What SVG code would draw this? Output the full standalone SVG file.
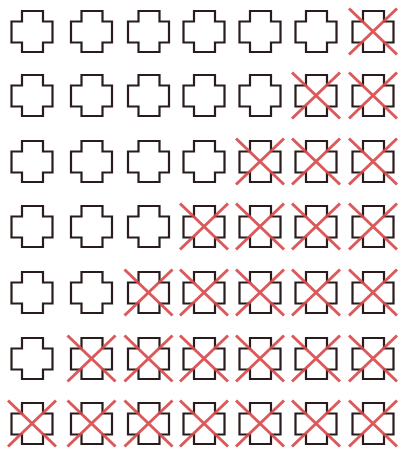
<svg xmlns="http://www.w3.org/2000/svg" xmlns:xlink="http://www.w3.org/1999/xlink" width="401" height="451" viewBox="0 0 401 451">
<style>
.plus{fill:none;stroke:#2a1c1c;stroke-width:2.2;stroke-linejoin:miter}
.cancel{stroke:#d9484a;stroke-width:3;stroke-linecap:butt;opacity:0.9}
</style>
<defs>
<path id="plus" class="plus" d="M10.5,0 H31.5 V10.5 H41 V31.5 H31.5 V41 H10.5 V31.5 H0 V10.5 H10.5 Z"/>
<g id="cancel" class="cancel"><line x1="-3.5" y1="-2.5" x2="44.5" y2="43.5"/><line x1="44.5" y1="-2.5" x2="-3.5" y2="43.5"/></g>
</defs>
<rect width="401" height="451" fill="#ffffff"/>
<g id="connectors"/>
<g id="row1">
<g id="r1c1" transform="translate(11.5,11)"><use href="#plus"/></g>
<g id="r1c2" transform="translate(71,11)"><use href="#plus"/></g>
<g id="r1c3" transform="translate(128,11)"><use href="#plus"/></g>
<g id="r1c4" transform="translate(183.5,11)"><use href="#plus"/></g>
<g id="r1c5" transform="translate(239.5,11)"><use href="#plus"/></g>
<g id="r1c6" transform="translate(295.5,11)"><use href="#plus"/></g>
<g id="r1c7" transform="translate(352.5,11)"><use href="#plus"/><use href="#cancel"/></g>
</g>
<g id="row2">
<g id="r2c1" transform="translate(11.5,75)"><use href="#plus"/></g>
<g id="r2c2" transform="translate(71,75)"><use href="#plus"/></g>
<g id="r2c3" transform="translate(128,75)"><use href="#plus"/></g>
<g id="r2c4" transform="translate(183.5,75)"><use href="#plus"/></g>
<g id="r2c5" transform="translate(239.5,75)"><use href="#plus"/></g>
<g id="r2c6" transform="translate(295.5,75)"><use href="#plus"/><use href="#cancel"/></g>
<g id="r2c7" transform="translate(352.5,75)"><use href="#plus"/><use href="#cancel"/></g>
</g>
<g id="row3">
<g id="r3c1" transform="translate(11.5,141)"><use href="#plus"/></g>
<g id="r3c2" transform="translate(71,141)"><use href="#plus"/></g>
<g id="r3c3" transform="translate(128,141)"><use href="#plus"/></g>
<g id="r3c4" transform="translate(183.5,141)"><use href="#plus"/></g>
<g id="r3c5" transform="translate(239.5,141)"><use href="#plus"/><use href="#cancel"/></g>
<g id="r3c6" transform="translate(295.5,141)"><use href="#plus"/><use href="#cancel"/></g>
<g id="r3c7" transform="translate(352.5,141)"><use href="#plus"/><use href="#cancel"/></g>
</g>
<g id="row4">
<g id="r4c1" transform="translate(11.5,206)"><use href="#plus"/></g>
<g id="r4c2" transform="translate(71,206)"><use href="#plus"/></g>
<g id="r4c3" transform="translate(128,206)"><use href="#plus"/></g>
<g id="r4c4" transform="translate(183.5,206)"><use href="#plus"/><use href="#cancel"/></g>
<g id="r4c5" transform="translate(239.5,206)"><use href="#plus"/><use href="#cancel"/></g>
<g id="r4c6" transform="translate(295.5,206)"><use href="#plus"/><use href="#cancel"/></g>
<g id="r4c7" transform="translate(352.5,206)"><use href="#plus"/><use href="#cancel"/></g>
</g>
<g id="row5">
<g id="r5c1" transform="translate(11.5,272)"><use href="#plus"/></g>
<g id="r5c2" transform="translate(71,272)"><use href="#plus"/></g>
<g id="r5c3" transform="translate(128,272)"><use href="#plus"/><use href="#cancel"/></g>
<g id="r5c4" transform="translate(183.5,272)"><use href="#plus"/><use href="#cancel"/></g>
<g id="r5c5" transform="translate(239.5,272)"><use href="#plus"/><use href="#cancel"/></g>
<g id="r5c6" transform="translate(295.5,272)"><use href="#plus"/><use href="#cancel"/></g>
<g id="r5c7" transform="translate(352.5,272)"><use href="#plus"/><use href="#cancel"/></g>
</g>
<g id="row6">
<g id="r6c1" transform="translate(11.5,338)"><use href="#plus"/></g>
<g id="r6c2" transform="translate(71,338)"><use href="#plus"/><use href="#cancel"/></g>
<g id="r6c3" transform="translate(128,338)"><use href="#plus"/><use href="#cancel"/></g>
<g id="r6c4" transform="translate(183.5,338)"><use href="#plus"/><use href="#cancel"/></g>
<g id="r6c5" transform="translate(239.5,338)"><use href="#plus"/><use href="#cancel"/></g>
<g id="r6c6" transform="translate(295.5,338)"><use href="#plus"/><use href="#cancel"/></g>
<g id="r6c7" transform="translate(352.5,338)"><use href="#plus"/><use href="#cancel"/></g>
</g>
<g id="row7">
<g id="r7c1" transform="translate(11.5,403)"><use href="#plus"/><use href="#cancel"/></g>
<g id="r7c2" transform="translate(71,403)"><use href="#plus"/><use href="#cancel"/></g>
<g id="r7c3" transform="translate(128,403)"><use href="#plus"/><use href="#cancel"/></g>
<g id="r7c4" transform="translate(183.5,403)"><use href="#plus"/><use href="#cancel"/></g>
<g id="r7c5" transform="translate(239.5,403)"><use href="#plus"/><use href="#cancel"/></g>
<g id="r7c6" transform="translate(295.5,403)"><use href="#plus"/><use href="#cancel"/></g>
<g id="r7c7" transform="translate(352.5,403)"><use href="#plus"/><use href="#cancel"/></g>
</g>
</svg>
